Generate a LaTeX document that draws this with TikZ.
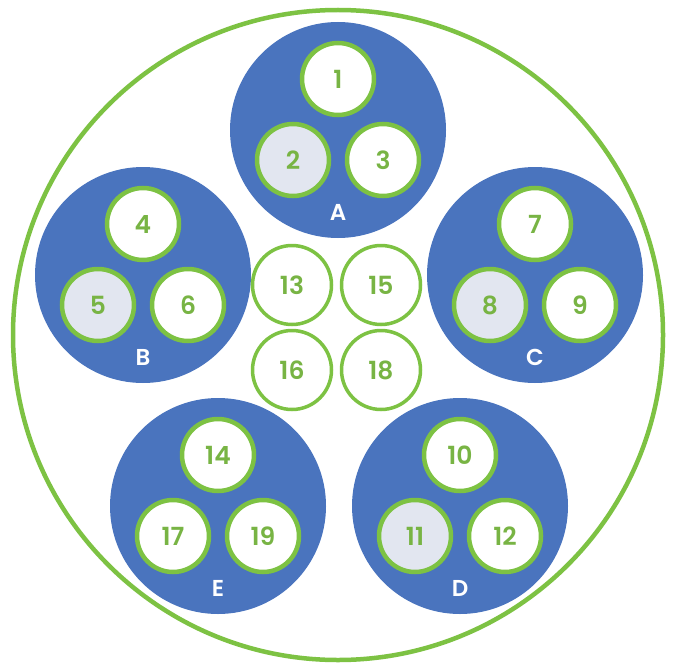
\documentclass[tikz,border=0pt]{standalone}
\usepackage{fontspec}
\setmainfont{Poppins}[BoldFont={Poppins SemiBold}]
\usetikzlibrary{calc}
\definecolor{bluebg}{HTML}{4A74BE}
\definecolor{ring}{HTML}{7DC243}
\definecolor{numgreen}{HTML}{78B444}
\definecolor{pale}{HTML}{E2E6F0}
\begin{document}
\begin{tikzpicture}[x=1pt,y=-1pt,
  group/.style={circle,fill=bluebg,minimum size=216pt,inner sep=0pt},
  wire/.style={circle,draw=ring,line width=4.5pt,fill=#1,minimum size=72pt,inner sep=0pt,text=numgreen,font=\bfseries\fontsize{25}{25}\selectfont},
  wire/.default=white,
  core/.style={circle,draw=ring,line width=3.5pt,fill=white,minimum size=79pt,inner sep=0pt,text=numgreen,font=\bfseries\fontsize{25}{25}\selectfont},
  glabel/.style={text=white,font=\bfseries\fontsize{23}{23}\selectfont,inner sep=0pt}]
\useasboundingbox (0,0) rectangle (676,666);
\node[circle,draw=ring,line width=4.5pt,minimum size=650pt,inner sep=0pt] (outer) at (338,335) {};
% groups
\foreach \n/\x/\y/\a/\b/\c/\f in {A/338/130/1/2/3/pale, B/143/275/4/5/6/pale, C/535/275/7/8/9/pale, E/218/506/14/17/19/white, D/460/506/10/11/12/pale}{
  \node[group] (g\n) at (\x,\y) {};
  \node[wire] (w\a) at ($(g\n)+(0,-51)$) {\a};
  \node[wire=\f] (w\b) at ($(g\n)+(-45,30)$) {\b};
  \node[wire] (w\c) at ($(g\n)+(45,30)$) {\c};
  \node[glabel] (l\n) at ($(g\n)+(0,82)$) {\n};
}
% core
\node[core] (c13) at (292,285) {13};
\node[core] (c15) at (381,285) {15};
\node[core] (c16) at (292,370) {16};
\node[core] (c18) at (381,370) {18};
\end{tikzpicture}
\end{document}
